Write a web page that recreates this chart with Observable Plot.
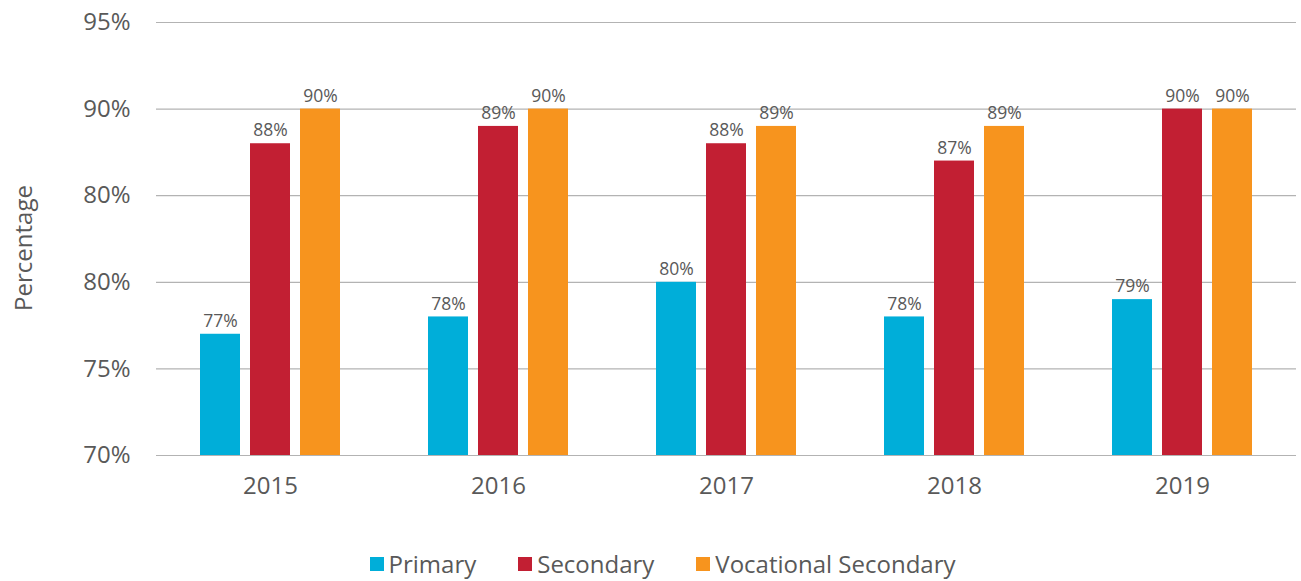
<!DOCTYPE html>
<html>
<head>
<meta charset="utf-8">
<script src="https://cdn.jsdelivr.net/npm/d3@7"></script>
<script src="https://cdn.jsdelivr.net/npm/@observablehq/plot@0.6"></script>
<style>
  html, body { margin: 0; padding: 0; background: #fff; }
  body { width: 1301px; height: 581px; overflow: hidden; font-family: "Open Sans", sans-serif; position: relative; }
  #ylabel { position: absolute; left: 22px; top: 248px; transform: translate(-50%, -50%) rotate(-90deg); font-size: 24px; color: #595959; white-space: nowrap; }
  #legend { position: absolute; top: 546px; left: 24px; width: 1277px; display: flex; justify-content: center; font-size: 24px; color: #595959; line-height: 36px; }
  .item { display: flex; align-items: center; margin: 0 21px; }
  .sw { width: 14px; height: 14px; display: inline-block; margin-right: 5px; }
</style>
</head>
<body>
<div id="chart"></div>
<div id="ylabel">Percentage</div>
<div id="legend"></div>
<script>
const years = ["2015", "2016", "2017", "2018", "2019"];
const levels = ["Primary", "Secondary", "Vocational Secondary"];
const primary = [77, 78, 80, 78, 79];
const secondary = [88, 89, 88, 87, 90];
const vocational = [90, 90, 89, 89, 90];
const colors = ["#00AED9", "#C21F33", "#F7941E"];
const yTicks = [70, 75, 80, 85, 90, 95];
const yTickLabels = ["70%", "75%", "80%", "80%", "90%", "95%"];

const series = [primary, secondary, vocational];
const data = [];
years.forEach((year, i) => {
  levels.forEach((level, j) => {
    data.push({year, level, value: series[j][i]});
  });
});

const chart = Plot.plot({
  width: 1301,
  height: 500,
  marginTop: 22,
  marginBottom: 45,
  marginLeft: 156,
  marginRight: 5,
  style: {fontFamily: "Open Sans", color: "#595959", background: "#fff"},
  fx: {domain: years, padding: 0, label: null},
  x: {domain: levels, paddingInner: 0.208, paddingOuter: 0.861, axis: null},
  y: {domain: [yTicks[0], yTicks[yTicks.length - 1]], axis: null, label: null},
  color: {domain: levels, range: colors},
  marks: [
    Plot.ruleY(yTicks, {stroke: "#b3b3b3", strokeWidth: 1.2}),
    Plot.barY(data, {fx: "year", x: "level", y1: yTicks[0], y2: "value", fill: "level"}),
    Plot.text(data, {fx: "year", x: "level", y: "value", text: d => d.value + "%", dy: -13, fontSize: 17.5, fill: "#595959"}),
    Plot.axisY(yTicks, {tickSize: 0, tickPadding: 26, fontSize: 24, fill: "#595959", label: null, tickFormat: d => yTickLabels[yTicks.indexOf(d)]}),
    Plot.axisFx({anchor: "bottom", tickSize: 0, tickPadding: 21, fontSize: 24, fill: "#595959", label: null})
  ]
});
document.getElementById("chart").appendChild(chart);

const legend = document.getElementById("legend");
levels.forEach((level, j) => {
  const item = document.createElement("div");
  item.className = "item";
  const sw = document.createElement("span");
  sw.className = "sw";
  sw.style.background = colors[j];
  item.appendChild(sw);
  const t = document.createElement("span");
  t.textContent = level;
  item.appendChild(t);
  legend.appendChild(item);
});
</script>
</body>
</html>
